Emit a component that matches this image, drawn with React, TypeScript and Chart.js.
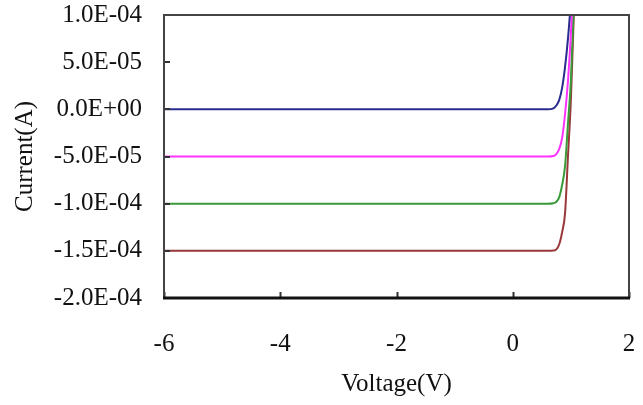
import React, { useEffect, useRef } from 'react';
import { Chart, registerables } from 'chart.js';

Chart.register(...registerables);

// Data
const voltage = [-6, -4, -2, 0, 0.5, 0.6, 0.7, 0.75, 0.8, 0.85, 0.9, 0.95, 1.0, 1.05, 1.1];
const currentBlue = [0, 0, 0, 0, 0, 0, 1e-6, 4e-6, 1e-5, 2.3e-5, 4.5e-5, 7.5e-5, 1.15e-4, 1.7e-4, 2.3e-4];
const currentMagenta = [-5e-5, -5e-5, -5e-5, -5e-5, -5e-5, -5e-5, -4.95e-5, -4.75e-5, -4.2e-5, -3e-5, -5e-6, 3e-5, 8e-5, 1.5e-4, 2.3e-4];
const currentGreen = [-1e-4, -1e-4, -1e-4, -1e-4, -1e-4, -1e-4, -9.95e-5, -9.8e-5, -9.3e-5, -8e-5, -6e-5, -1.5e-5, 3e-5, 1.1e-4, 2e-4];
const currentRed = [-1.5e-4, -1.5e-4, -1.5e-4, -1.5e-4, -1.5e-4, -1.5e-4, -1.497e-4, -1.485e-4, -1.43e-4, -1.3e-4, -1.1e-4, -5e-5, 1e-5, 1e-4, 2e-4];

const xTicks = [-6, -4, -2, 0, 2];
const yTicks = [-2e-4, -1.5e-4, -1e-4, -5e-5, 0, 5e-5, 1e-4];

const seriesColors = ['#2b2b8f', '#ff33ff', '#3a9a3a', '#993838'];

const fontFamily = '"Liberation Serif", "Times New Roman", serif';
const textColor = '#111111';

function formatSci(v: number): string {
  if (Math.abs(v) < 1e-12) return '0.0E+00';
  const [m, e] = v.toExponential(1).split('e');
  const ev = parseInt(e, 10);
  const sign = ev < 0 ? '-' : '+';
  const abs = Math.abs(ev);
  return `${m}E${sign}${abs < 10 ? '0' + abs : abs}`;
}

const framePlugin = {
  id: 'frameAndTicks',
  afterDraw(chart: any) {
    const { ctx, chartArea } = chart;
    const { left, right, top, bottom } = chartArea;
    const xs = chart.scales.x;
    const ys = chart.scales.y;
    ctx.save();
    ctx.strokeStyle = '#333333';
    ctx.lineWidth = 2;
    // inward ticks
    ctx.beginPath();
    xTicks.forEach((v) => {
      const px = Math.round(xs.getPixelForValue(v)) + 0.5;
      ctx.moveTo(px, bottom);
      ctx.lineTo(px, bottom - 6);
    });
    yTicks.forEach((v) => {
      const py = Math.round(ys.getPixelForValue(v));
      ctx.moveTo(left, py);
      ctx.lineTo(left + 6, py);
    });
    ctx.stroke();
    // frame
    ctx.strokeStyle = '#444444';
    ctx.lineWidth = 2;
    ctx.strokeRect(left, top, right - left, bottom - top);
    ctx.strokeStyle = '#111111';
    ctx.lineWidth = 3;
    ctx.beginPath();
    ctx.moveTo(left - 1, bottom);
    ctx.lineTo(right + 1, bottom);
    ctx.stroke();
    ctx.restore();
  },
};

export default function App() {
  const canvasRef = useRef<HTMLCanvasElement | null>(null);

  useEffect(() => {
    if (!canvasRef.current) return;
    const makeData = (ys: number[]) => voltage.map((x, i) => ({ x, y: ys[i] }));
    const series = [currentBlue, currentMagenta, currentGreen, currentRed];
    const tickFont = { family: fontFamily, size: 25 };
    const titleFont = { family: fontFamily, size: 25 };

    const chart = new Chart(canvasRef.current, {
      type: 'line',
      data: {
        datasets: series.map((s, i) => ({
          data: makeData(s),
          borderColor: seriesColors[i],
          backgroundColor: seriesColors[i],
          borderWidth: 2,
          pointRadius: 0,
          fill: false,
          cubicInterpolationMode: 'monotone' as const,
        })),
      },
      options: {
        animation: false,
        responsive: true,
        maintainAspectRatio: false,
        layout: { padding: { top: 15, right: 14, left: 0, bottom: 0 } },
        plugins: { legend: { display: false }, tooltip: { enabled: false } },
        scales: {
          x: {
            type: 'linear',
            min: -6,
            max: 2,
            afterBuildTicks: (s: any) => {
              s.ticks = xTicks.map((v) => ({ value: v }));
            },
            afterFit: (s: any) => {
              s.height = 107;
              s.paddingLeft = 0;
              s.paddingRight = 0;
            },
            grid: { display: false, drawTicks: false },
            border: { display: false },
            ticks: {
              padding: 31,
              font: tickFont,
              color: textColor,
              maxRotation: 0,
              autoSkip: false,
              callback: (v: any) => String(v),
            },
            title: {
              display: true,
              text: 'Voltage(V)',
              font: titleFont,
              color: textColor,
              padding: { top: 0, bottom: 6 },
            },
          },
          y: {
            type: 'linear',
            min: -2e-4,
            max: 1e-4,
            afterBuildTicks: (s: any) => {
              s.ticks = yTicks.map((v) => ({ value: v }));
            },
            afterFit: (s: any) => {
              s.width = 164;
              s.paddingTop = 0;
              s.paddingBottom = 0;
            },
            grid: { display: false, drawTicks: false },
            border: { display: false },
            ticks: {
              padding: 22,
              font: tickFont,
              color: textColor,
              autoSkip: false,
              callback: (v: any) => formatSci(Number(v)),
            },
            title: {
              display: true,
              text: 'Current(A)',
              font: titleFont,
              color: textColor,
              padding: { top: 10, bottom: 0 },
            },
          },
        },
      },
      plugins: [framePlugin],
    });
    return () => chart.destroy();
  }, []);

  return (
    <div style={{ position: 'fixed', left: 0, top: 0, width: 643, height: 405, background: '#ffffff' }}>
      <canvas ref={canvasRef} />
    </div>
  );
}
